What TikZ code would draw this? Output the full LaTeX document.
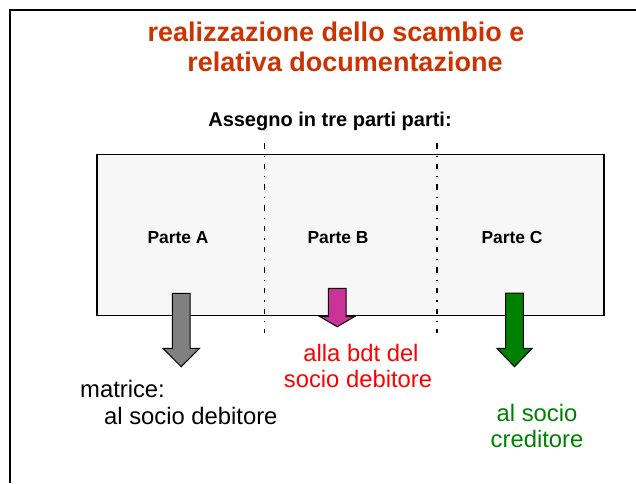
\documentclass[tikz,border=0pt]{standalone}
\usepackage{fontspec}
\setmainfont{Liberation Sans}
\definecolor{titolo}{HTML}{CC3300}
\definecolor{grigio}{HTML}{808080}
\definecolor{magenta}{HTML}{CC3399}
\definecolor{verde}{HTML}{008000}
\definecolor{carta}{HTML}{F7F7F7}
\begin{document}
\begin{tikzpicture}[x=1pt,y=-1pt] % coordinate in pixel, y verso il basso
\tikzstyle{titolo} = [font=\fontsize{27}{30}\selectfont\bfseries, text=titolo, anchor=base, inner sep=0pt] % titolo
\tikzstyle{parte} = [font=\fontsize{17.4}{20}\selectfont\bfseries, anchor=base, inner sep=0pt] % nomi delle parti
\tikzstyle{nota} = [font=\fontsize{23.8}{27}\selectfont, anchor=base, inner sep=0pt] % testi sotto le frecce
\tikzstyle{taglio} = [line width=1.2pt, dash pattern=on 5.5pt off 7pt on 1.2pt off 7pt] % linea di separazione
\tikzstyle{freccia} = [draw=black, line width=1pt, line join=miter] % frecce piene
\useasboundingbox (0,0) rectangle (636,483);

% cornice
\coordinate (cornA) at (10,483);
\coordinate (cornB) at (10,10);
\coordinate (cornC) at (636,10);
\draw[line width=1.6pt] (cornA) -- (cornB) -- (cornC);

\node[titolo] (tit1) at (336,41) {realizzazione dello scambio e};
\node[titolo] (tit2) at (345,71) {relativa documentazione};
\node[parte, font=\fontsize{20}{23}\selectfont\bfseries] (assegno) at (330,126) {Assegno in tre parti parti:};

% assegno
\node[draw, line width=1.2pt, fill=carta, minimum width=507pt, minimum height=161pt, inner sep=0pt] (cheque) at (350.5,235) {};
\node[parte] (pA) at (178,243) {Parte A};
\node[parte] (pB) at (338,243) {Parte B};
\node[parte] (pC) at (512,243) {Parte C};

\coordinate (t1a) at (264.5,143);
\coordinate (t1b) at (264.5,333);
\coordinate (t2a) at (437,143);
\coordinate (t2b) at (437,333);
\draw[taglio] (t1a) -- (t1b);
\draw[taglio] (t2a) -- (t2b);

% frecce: centro / inizio / testa / punta / mezza testa / colore
\foreach \cx/\ya/\yb/\yc/\hw/\col in {181.2/293.3/348.3/366.7/18.3/grigio, 337.2/288.3/316.7/326.7/17.2/magenta, 514.5/293/348.3/366.7/17.7/verde}
  \draw[freccia, fill=\col] (\cx-8.8,\ya) -- (\cx+8.8,\ya) -- (\cx+8.8,\yb) -- (\cx+\hw,\yb)
    -- (\cx,\yc) -- (\cx-\hw,\yb) -- (\cx-8.8,\yb) -- cycle;

\node[nota, anchor=base west] (matr1) at (80,397) {matrice:};
\node[nota, anchor=base west] (matr2) at (104,424) {al socio debitore};
\node[nota, text=red] (bdt1) at (361,361) {alla bdt del};
\node[nota, text=red] (bdt2) at (358,387) {socio debitore};
\node[nota, text=verde] (cred1) at (537,421) {al socio};
\node[nota, text=verde] (cred2) at (537,447) {creditore};
\end{tikzpicture}
\end{document}
